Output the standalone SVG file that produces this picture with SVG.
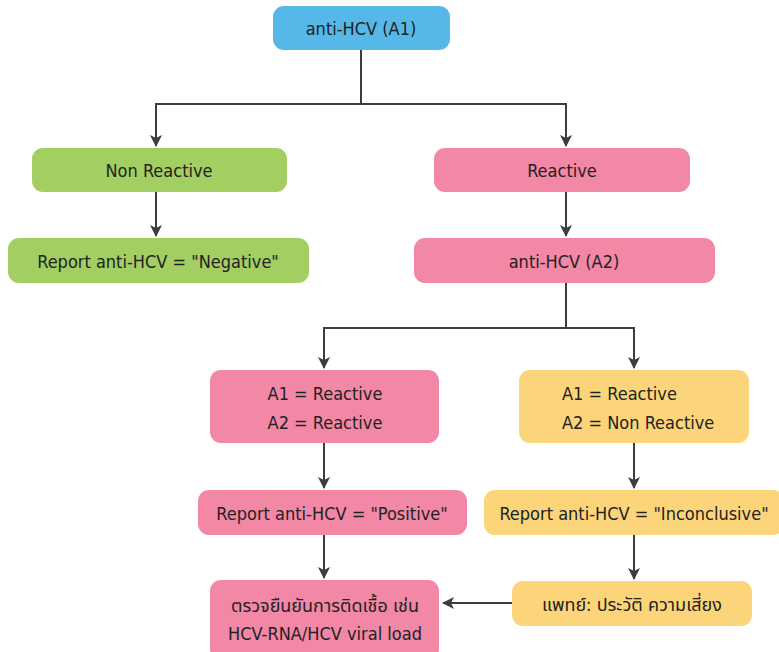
<svg xmlns="http://www.w3.org/2000/svg" width="779" height="652" viewBox="0 0 779 652">
  <defs>
    <marker id="arrow" viewBox="0 0 12 12" refX="11" refY="6" markerWidth="12" markerHeight="12" markerUnits="userSpaceOnUse" orient="auto">
      <path d="M0,0 L12,6 L0,12 L3,6 Z" fill="#3d3d3d"/>
    </marker>
    <style>
      .blue { fill: #55b8e8; }
      .green { fill: #a3cf62; }
      .pink { fill: #f287a6; }
      .yellow { fill: #fcd57a; }
      text { font-family: "Liberation Sans Narrow", "DejaVu Sans Condensed", "Noto Sans", "Noto Sans Thai", sans-serif; font-size: 18px; fill: #222222; text-anchor: middle; dominant-baseline: central; }
      .left { text-anchor: start; }
      .link { fill: none; stroke: #3d3d3d; stroke-width: 2; }
    </style>
  </defs>
  <rect width="779" height="652" fill="#ffffff"/>

  <g id="connectors">
    <path class="link" d="M361,50 V104 H156 V146" marker-end="url(#arrow)"/>
    <path class="link" d="M361,104 H566 V146" marker-end="url(#arrow)"/>
    <path class="link" d="M156,192 V236" marker-end="url(#arrow)"/>
    <path class="link" d="M566,192 V236" marker-end="url(#arrow)"/>
    <path class="link" d="M566,283 V328 H324 V368" marker-end="url(#arrow)"/>
    <path class="link" d="M566,328 H634 V368" marker-end="url(#arrow)"/>
    <path class="link" d="M324,443 V488" marker-end="url(#arrow)"/>
    <path class="link" d="M634,443 V488" marker-end="url(#arrow)"/>
    <path class="link" d="M324,535 V578" marker-end="url(#arrow)"/>
    <path class="link" d="M634,535 V579" marker-end="url(#arrow)"/>
    <path class="link" d="M512,603 H443" marker-end="url(#arrow)"/>
  </g>

  <g id="a1">
    <rect class="blue" x="273" y="6" width="177" height="44" rx="11"/>
    <text x="361" y="28">anti-HCV (A1)</text>
  </g>
  <g id="non-reactive">
    <rect class="green" x="32" y="148" width="255" height="44" rx="11"/>
    <text x="159" y="170">Non Reactive</text>
  </g>
  <g id="reactive">
    <rect class="pink" x="434" y="148" width="256" height="44" rx="11"/>
    <text x="562" y="170">Reactive</text>
  </g>
  <g id="negative">
    <rect class="green" x="8" y="238" width="301" height="45" rx="11"/>
    <text x="158" y="261">Report anti-HCV = "Negative"</text>
  </g>
  <g id="a2">
    <rect class="pink" x="414" y="238" width="301" height="45" rx="11"/>
    <text x="564" y="261">anti-HCV (A2)</text>
  </g>
  <g id="both-reactive">
    <rect class="pink" x="210" y="370" width="229" height="73" rx="11"/>
    <text x="325" y="393">A1 = Reactive</text>
    <text x="325" y="422">A2 = Reactive</text>
  </g>
  <g id="a2-non-reactive">
    <rect class="yellow" x="519" y="370" width="230" height="73" rx="11"/>
    <text class="left" x="562" y="393">A1 = Reactive</text>
    <text class="left" x="562" y="422">A2 = Non Reactive</text>
  </g>
  <g id="positive">
    <rect class="pink" x="198" y="490" width="269" height="45" rx="11"/>
    <text x="332" y="513">Report anti-HCV = "Positive"</text>
  </g>
  <g id="inconclusive">
    <rect class="yellow" x="484" y="490" width="300" height="45" rx="11"/>
    <text x="634" y="513">Report anti-HCV = "Inconclusive"</text>
  </g>
  <g id="confirm">
    <rect class="pink" x="210" y="580" width="229" height="80" rx="11"/>
    <text x="325" y="605">ตรวจยืนยันการติดเชื้อ เช่น</text>
    <text x="325" y="633">HCV-RNA/HCV viral load</text>
  </g>
  <g id="risk">
    <rect class="yellow" x="512" y="581" width="240" height="45" rx="11"/>
    <text x="632" y="604">แพทย์: ประวัติ ความเสี่ยง</text>
  </g>
</svg>
